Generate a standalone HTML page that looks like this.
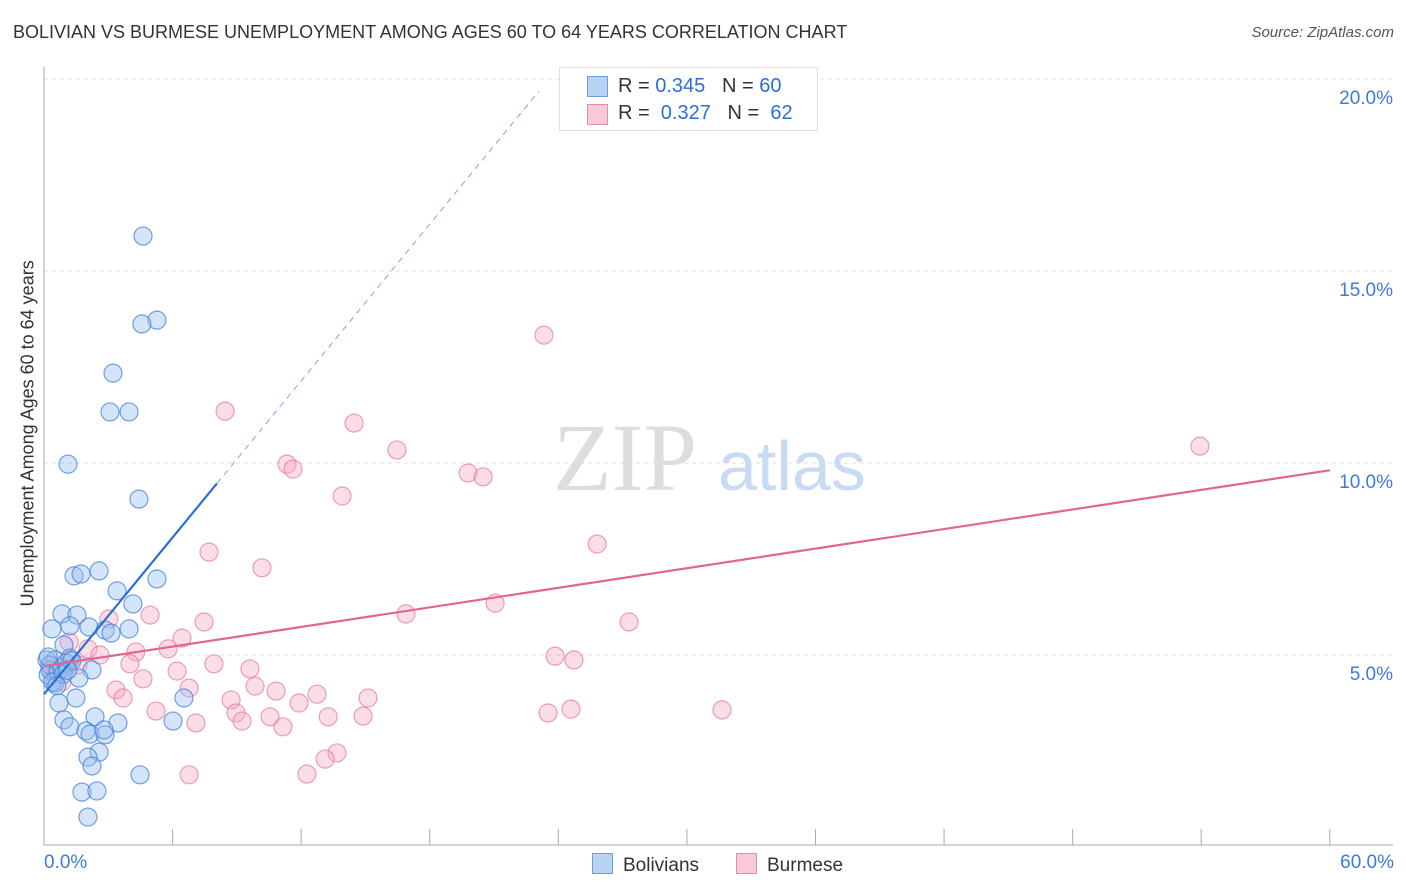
<!DOCTYPE html>
<html><head><meta charset="utf-8">
<style>
body{margin:0;background:#fff;font-family:"Liberation Sans",sans-serif;}
#wrap{position:relative;width:1406px;height:892px;overflow:hidden;}
.t{position:absolute;white-space:nowrap;}
</style></head><body>
<div id="wrap">
<div class="t" style="left:13px;top:22px;font-size:18px;color:#333;">BOLIVIAN VS BURMESE UNEMPLOYMENT AMONG AGES 60 TO 64 YEARS CORRELATION CHART</div>
<div class="t" style="right:12px;top:24px;font-size:15px;color:#555;font-style:italic;">Source: ZipAtlas.com</div>
<svg id="plot" width="1406" height="892" style="position:absolute;left:0;top:0"></svg>
</div>
<script>
const blueX=[4.62,5.27,4.57,3.22,3.08,3.97,1.12,4.43,2.57,1.40,1.73,5.27,3.41,4.15,0.84,1.54,2.10,0.37,1.21,2.85,3.13,3.97,0.93,0.14,0.51,1.21,0.28,2.24,1.63,0.51,6.53,0.70,1.49,0.93,2.38,3.45,6.02,1.21,1.96,2.15,2.85,2.80,2.57,2.05,2.24,4.48,1.77,2.47,2.05,0.28,0.19,0.65,0.84,1.03,0.4,0.9,1.3,0.2,0.6,1.1];
const blueY=[15.91,13.72,13.62,12.34,11.33,11.33,9.97,9.06,7.19,7.06,7.11,6.98,6.67,6.33,6.07,6.04,5.73,5.68,5.76,5.65,5.57,5.68,5.26,4.87,4.87,4.92,4.61,4.61,4.40,4.27,3.88,3.75,3.88,3.31,3.39,3.23,3.28,3.13,3.02,2.94,2.92,3.05,2.47,2.34,2.11,1.88,1.43,1.46,0.78,4.74,4.48,4.56,4.66,4.79,4.3,4.5,4.85,4.95,4.2,4.6];
const pinkX=[23.33,53.94,8.45,14.47,16.47,11.34,11.62,19.79,20.49,13.91,25.81,7.70,10.17,21.05,16.89,4.95,3.03,27.30,7.47,6.44,5.79,1.17,2.05,2.61,4.29,23.85,24.73,4.01,7.93,6.21,9.61,4.62,3.36,6.77,9.85,10.83,12.74,15.12,3.69,8.73,11.90,5.23,8.96,9.24,10.55,13.26,14.89,7.09,11.15,23.52,24.59,31.64,13.67,13.12,6.77,12.27,0.28,0.56,0.84,1.21,1.59,0.65];
const pinkY=[13.33,10.44,11.35,11.04,10.34,9.97,9.84,9.74,9.64,9.14,7.89,7.68,7.27,6.35,6.07,6.04,5.94,5.86,5.86,5.44,5.16,5.34,5.16,5.00,5.08,4.97,4.87,4.77,4.77,4.58,4.64,4.38,4.09,4.14,4.19,4.06,3.98,3.88,3.88,3.83,3.75,3.54,3.49,3.28,3.39,3.39,3.41,3.23,3.13,3.49,3.59,3.57,2.45,2.29,1.88,1.90,4.61,4.48,4.30,4.87,4.74,4.69];
const yTicks=[5,10,15,20];
const yTickLabels=["5.0%","10.0%","15.0%","20.0%"];
const xTicks=[0,6,12,18,24,30,36,42,48,54,60];
const blueTrend=[3.98,0.68];
const pinkTrend=[4.71,0.085];

const X=v=>44+v*21.43, Y=v=>847-v*38.4;
const svg=document.getElementById('plot');const NS='http://www.w3.org/2000/svg';
function mk(tag,attrs,name){const e=document.createElementNS(NS,tag);for(const k in attrs)e.setAttribute(k,attrs[k]);


svg.appendChild(e);return e;}
yTicks.forEach((v,i)=>{mk('line',{x1:44,x2:1393,y1:Y(v),y2:Y(v),stroke:'#ddd','stroke-dasharray':'4,4'},'y-gridline');
const t=mk('text',{x:1393,y:Y(v)+25,'text-anchor':'end','font-size':19,fill:'#3f7bd6','font-family':'Liberation Sans'},'y-tick-label');t.textContent=yTickLabels[i];});
mk('line',{x1:44,x2:1393,y1:79,y2:79,stroke:'#ddd','stroke-dasharray':'4,4'},'top-gridline');
mk('line',{x1:44,x2:44,y1:67,y2:845,stroke:'#aaa'},'y-axis');
mk('line',{x1:44,x2:1393,y1:845,y2:845,stroke:'#aaa'},'x-axis');
xTicks.forEach(v=>mk('line',{x1:X(v),x2:X(v),y1:829,y2:845,stroke:'#aaa'},'x-tick'));
// watermark
let w=mk('text',{x:553,y:490,'font-size':96,fill:'#ddd','font-family':'Liberation Serif'},'watermark-zip');w.textContent='ZIP';
w=mk('text',{x:718,y:490,'font-size':70,fill:'#c9dbf3','font-family':'Liberation Sans'},'watermark-atlas');w.textContent='atlas';
// points
pinkX.forEach((v,i)=>mk('circle',{cx:X(v),cy:Y(pinkY[i]),r:9,fill:'rgba(246,170,195,0.4)',stroke:'rgba(230,120,155,0.7)','stroke-width':1.2},'burmese-point'));
blueX.forEach((v,i)=>mk('circle',{cx:X(v),cy:Y(blueY[i]),r:9,fill:'rgba(150,190,240,0.4)',stroke:'rgba(70,130,215,0.75)','stroke-width':1.2},'bolivian-point'));
// trends
const bx2=8.07,bx3=23.1;
mk('line',{x1:X(0),y1:Y(blueTrend[0]),x2:X(bx2),y2:Y(blueTrend[0]+blueTrend[1]*bx2),stroke:'#2a6fd6','stroke-width':2.2},'bolivian-trend-line');
mk('line',{x1:X(bx2),y1:Y(blueTrend[0]+blueTrend[1]*bx2),x2:X(bx3),y2:Y(blueTrend[0]+blueTrend[1]*bx3),stroke:'#7aa6e6','stroke-width':1,'stroke-dasharray':'6,5'},'bolivian-trend-extension');
mk('line',{x1:X(0),y1:Y(pinkTrend[0]),x2:X(60),y2:Y(pinkTrend[0]+pinkTrend[1]*60),stroke:'#e26591','stroke-width':2.2},'burmese-trend-line');
</script>
<div class="t" style="left:-122px;top:446px;font-size:18px;color:#333;transform:rotate(-90deg);width:300px;text-align:center;">Unemployment Among Ages 60 to 64 years</div>
<div class="t" style="left:44px;top:852px;font-size:19px;color:#3f7bd6;">0.0%</div>
<div class="t" style="right:12px;top:852px;font-size:19px;color:#3f7bd6;">60.0%</div>
<div style="position:absolute;left:559px;top:67px;width:257px;height:62px;border:1px solid #ddd;background:#fff;font-size:20px;color:#333;">
 <div style="position:absolute;left:27px;top:8px;width:19px;height:19px;background:#b9d3f5;border:1px solid #6b9be0;"></div>
 <div class="t" style="left:58px;top:7px;">R = <span style="color:#2a6fd6">0.345</span>&nbsp;&nbsp;&nbsp;N = <span style="color:#2a6fd6">60</span></div>
 <div style="position:absolute;left:27px;top:36px;width:19px;height:19px;background:#f9c9d8;border:1px solid #e88aa9;"></div>
 <div class="t" style="left:58px;top:34px;">R = &nbsp;<span style="color:#2a6fd6">0.327</span>&nbsp;&nbsp;&nbsp;N = &nbsp;<span style="color:#2a6fd6">62</span></div>
</div>
<div style="position:absolute;left:592px;top:853px;font-size:19px;color:#333;">
 <span style="display:inline-block;width:19px;height:19px;background:#b9d3f5;border:1px solid #6b9be0;vertical-align:-3px;margin-right:10px;"></span>Bolivians</div>
<div style="position:absolute;left:736px;top:853px;font-size:19px;color:#333;">
 <span style="display:inline-block;width:19px;height:19px;background:#f9c9d8;border:1px solid #e88aa9;vertical-align:-3px;margin-right:10px;"></span>Burmese</div>
</body></html>
